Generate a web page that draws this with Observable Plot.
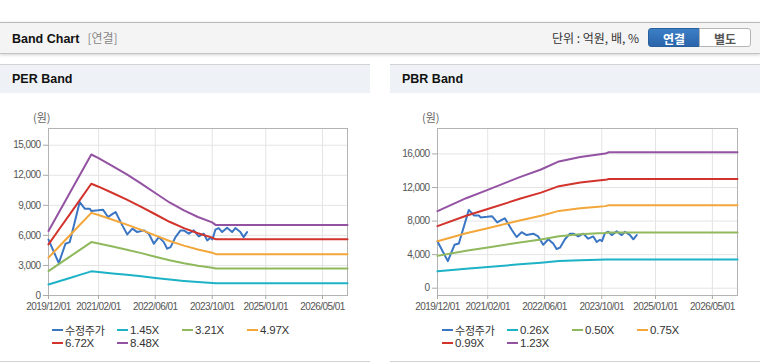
<!DOCTYPE html>
<html><head><meta charset="utf-8">
<script src="https://cdn.jsdelivr.net/npm/d3@7"></script>
<script src="https://cdn.jsdelivr.net/npm/@observablehq/plot@0.6"></script>
<style>
body{margin:0;background:#fff;font-family:"Liberation Sans",Arial,"Noto Sans CJK KR",sans-serif;}
#page{position:relative;width:760px;height:364px;overflow:hidden;background:#fff;}
#topbar{position:absolute;left:0;top:22px;width:760px;height:30px;background:#f4f4f4;border-top:1px solid #b9b9b9;border-bottom:1px solid #c4c4c4;box-shadow:0 1px 3px rgba(0,0,0,0.18);}
#title{position:absolute;left:12px;top:0;line-height:30px;font-size:12.5px;font-weight:bold;color:#111;}
#title span{font-weight:normal;color:#888;font-size:12px;margin-left:8px;font-family:"Noto Sans CJK KR",sans-serif;}
#unit{position:absolute;left:552px;top:0;line-height:30px;font-size:12px;color:#333;font-family:"Noto Sans CJK KR",sans-serif;}
.btn{position:absolute;top:5px;height:19px;line-height:19px;font-size:12px;font-weight:bold;text-align:center;font-family:"Noto Sans CJK KR",sans-serif;box-sizing:border-box;}
#b1{left:648px;width:52px;background:linear-gradient(#3c7fc6,#2a64aa);color:#fff;border:1px solid #2a5f9e;border-radius:3px 0 0 3px;}
#b2{left:699px;width:52px;background:#fff;color:#555;border:1px solid #b5b5b5;border-radius:0 3px 3px 0;}
.panel{position:absolute;top:64px;width:370px;height:298px;border-top:1px solid #d2d2d2;border-bottom:1px solid #d2d2d2;background:#fff;box-sizing:border-box;}
.phead{position:absolute;left:0;top:0;width:100%;height:28px;background:#eef2f7;}
.phead div{position:absolute;left:12px;top:0;line-height:29px;font-size:12.5px;font-weight:bold;color:#111;}
.unitlbl{position:absolute;font-size:11px;line-height:13px;color:#666;font-family:"Noto Sans CJK KR",sans-serif;}
.chart{position:absolute;top:100px;}
.chart svg text{letter-spacing:-0.55px;}
.legend{position:absolute;top:323.5px;display:grid;grid-template-columns:65px 65px 65px 65px;grid-auto-rows:13px;}
.li{display:flex;align-items:center;height:13px;line-height:12px;font-size:11.5px;color:#333;white-space:nowrap;letter-spacing:-0.2px;overflow:visible;}
.li i{display:inline-block;width:11px;height:2px;margin-right:2px;flex:none;}
.li span{display:inline-block;line-height:12px;height:12px;}
.li span.k{font-family:"Noto Sans CJK KR",sans-serif;font-size:11px;}
</style></head>
<body>
<div id="page">
  <div id="topbar">
    <div id="title">Band Chart<span>[연결]</span></div>
    <div id="unit">단위 : 억원, 배, %</div>
    <div class="btn" id="b1">연결</div>
    <div class="btn" id="b2">별도</div>
  </div>
  <div class="panel" style="left:0"><div class="phead"><div>PER Band</div></div></div>
  <div class="panel" style="left:390px"><div class="phead"><div>PBR Band</div></div></div>
  <div class="unitlbl" style="left:33px;top:111px">(원)</div>
  <div class="unitlbl" style="left:422px;top:111px">(원)</div>
  <div class="chart" id="perChart" style="left:0"></div>
  <div class="chart" id="pbrChart" style="left:390px"></div>
  <div class="legend" id="perLegend" style="left:52px"></div>
  <div class="legend" id="pbrLegend" style="left:442px"></div>
</div>
<script>
// ---- data ----
const xDomain = ["2019-12-01", "2026-12-01"];
const xTicks = ["2019-12-01", "2021-02-01", "2022-06-01", "2023-10-01", "2025-01-01", "2026-05-01"];
const perYTicks = [0, 3000, 6000, 9000, 12000, 15000];
const pbrYTicks = [0, 4000, 8000, 12000, 16000];
const perYDomain = [0, 16670];
const pbrYDomain = [-870, 19030];

const priceName = "수정주가";
const priceDates = ["2019-12-01","2020-02-27","2020-04-24","2020-05-31","2020-08-24","2020-10-06","2020-11-17","2020-12-02","2021-01-27","2021-03-11","2021-04-23","2021-06-04","2021-06-27","2021-08-23","2021-10-05","2021-11-17","2021-12-29","2022-02-24","2022-04-07","2022-05-20","2022-07-02","2022-08-13","2022-09-11","2022-10-10","2022-11-21","2023-01-03","2023-01-31","2023-03-15","2023-04-26","2023-06-08","2023-07-21","2023-08-19","2023-09-16","2023-10-03","2023-10-28","2023-11-26","2023-12-25","2024-02-05","2024-03-19","2024-04-16","2024-05-29","2024-06-26","2024-07-25"];
const priceValues = [5570,3230,5170,5330,9330,8670,8670,8430,8500,8570,7830,8170,8330,7000,6100,6670,6330,6500,6170,5170,5830,5330,4670,4830,5830,6500,6500,6170,6500,5900,6170,5500,5770,5600,6570,6730,6330,6770,6330,6730,6330,5830,6330];

const perBandNames = ["1.45X", "3.21X", "4.97X", "6.72X", "8.48X"];
const perBandDates = ["2019-12-01","2020-03-01","2020-06-01","2020-09-01","2020-12-01","2021-02-01","2021-06-01","2021-10-01","2022-02-01","2022-06-01","2022-10-01","2023-02-01","2023-06-01","2023-10-01","2023-11-01","2026-12-01"];
const per145 = [1100,1430,1755,2080,2410,2345,2205,2065,1910,1750,1590,1450,1340,1245,1215,1215];
const per321 = [2440,3160,3885,4610,5330,5185,4885,4575,4230,3875,3515,3215,2965,2760,2690,2690];
const per497 = [3775,4890,6015,7135,8250,8030,7565,7080,6550,6000,5440,4975,4590,4275,4125,4125];
const per672 = [5105,6610,8130,9650,11155,10860,10230,9575,8855,8110,7360,6725,6210,5780,5610,5610];
const per848 = [6445,8345,10260,12175,14075,13705,12905,12085,11175,10235,9285,8490,7835,7295,7030,7030];

const pbrBandNames = ["0.26X", "0.50X", "0.75X", "0.99X", "1.23X"];
const pbrBandDates = ["2019-12-01","2020-08-01","2021-02-01","2021-11-01","2022-05-01","2022-10-01","2023-04-01","2023-09-01","2023-11-01","2023-12-01","2026-12-01"];
const pbr026 = [2010,2320,2530,2840,3030,3230,3340,3400,3415,3430,3430];
const pbr050 = [3850,4460,4850,5450,5810,6200,6420,6540,6580,6640,6640];
const pbr075 = [5600,6540,7150,8070,8625,9210,9540,9720,9780,9875,9875];
const pbr099 = [7400,8630,9435,10650,11385,12160,12590,12830,12910,13020,13020];
const pbr123 = [9180,10725,11720,13235,14145,15105,15645,15940,16040,16200,16200];

const seriesColors = ["#3b76c4", "#1db2c6", "#8fb95c", "#f3a73b", "#d2332c", "#9452a2"];

// ---- build ----
const parse = s => new Date(s + "T00:00:00Z");
function makeRows(bandNames, bandDates, bandValues) {
  const rows = [];
  priceDates.forEach((d, i) => rows.push({date: parse(d), value: priceValues[i], series: priceName}));
  bandNames.forEach((name, k) => {
    bandDates.forEach((d, i) => rows.push({date: parse(d), value: bandValues[k][i], series: name}));
  });
  return rows;
}

function chart(rows, names, yDomain, yTicks, marginLeft) {
  const ticks = xTicks.map(parse);
  return Plot.plot({
    width: 370, height: 215,
    marginLeft, marginRight: 23, marginTop: 28, marginBottom: 20,
    style: {fontFamily: "'Liberation Sans', Arial, sans-serif", fontSize: "10px", color: "#555", background: "transparent"},
    x: {type: "utc", domain: xDomain.map(parse)},
    y: {domain: yDomain},
    color: {domain: [priceName, ...names], range: seriesColors},
    marks: [
      Plot.gridX(ticks, {stroke: "#e4e4e4", strokeOpacity: 1}),
      Plot.gridY(yTicks, {stroke: "#e4e4e4", strokeOpacity: 1}),
      Plot.frame({stroke: "#b3b3b3"}),
      Plot.axisX(ticks, {tickFormat: d3.utcFormat("%Y/%m/%d"), tickSize: 4, tickPadding: 3, stroke: "#aaa", fill: "#555", label: null}),
      Plot.axisY(yTicks, {tickFormat: d3.format(","), tickSize: 5, tickPadding: 3, stroke: "#aaa", fill: "#555", label: null}),
      Plot.line(rows, {x: "date", y: "value", z: "series", stroke: "series", strokeWidth: 2})
    ]
  });
}

function legend(el, names) {
  [priceName, ...names].forEach((n, i) => {
    const d = document.createElement("div");
    d.className = "li";
    d.innerHTML = `<i style="background:${seriesColors[i]}"></i><span class="${i === 0 ? "k" : ""}">${n}</span>`;
    el.appendChild(d);
  });
}

document.getElementById("perChart").appendChild(
  chart(makeRows(perBandNames, perBandDates, [per145, per321, per497, per672, per848]), perBandNames, perYDomain, perYTicks, 48));
document.getElementById("pbrChart").appendChild(
  chart(makeRows(pbrBandNames, pbrBandDates, [pbr026, pbr050, pbr075, pbr099, pbr123]), pbrBandNames, pbrYDomain, pbrYTicks, 47));
legend(document.getElementById("perLegend"), perBandNames);
legend(document.getElementById("pbrLegend"), pbrBandNames);
</script>
</body></html>
